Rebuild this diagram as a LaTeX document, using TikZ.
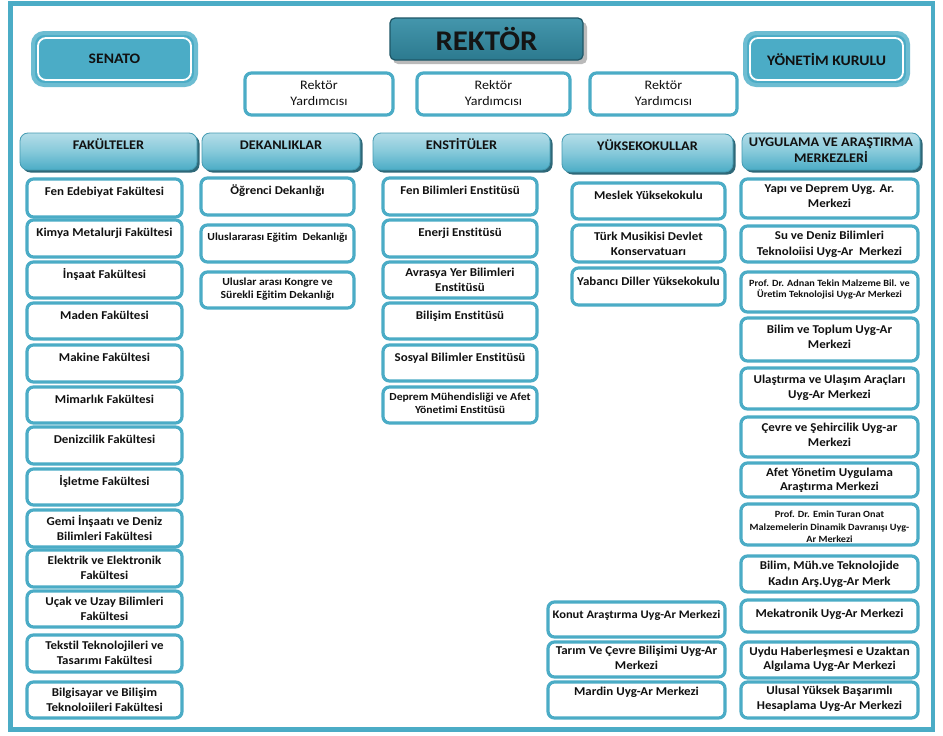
\documentclass[tikz,border=0pt]{standalone}
\usepackage{fontspec}
\setmainfont{Carlito}[FakeStretch=1.08,Ligatures=NoCommon]
\usetikzlibrary{calc,backgrounds}
\definecolor{teal1}{HTML}{4BACC6}
\definecolor{tealedge}{HTML}{6DBDD2}
\definecolor{hdrtop}{HTML}{B4DDE8}
\definecolor{hdrmid}{HTML}{86C9DA}
\definecolor{hdrbot}{HTML}{4BACC6}
\definecolor{hdrshadow}{HTML}{2E6878}
\definecolor{rktop}{HTML}{4496AC}
\definecolor{rkbot}{HTML}{2C7A8F}
\definecolor{rkedge}{HTML}{1E5767}
\definecolor{txtc}{HTML}{111111}
\tikzset{
 conn/.style={draw=teal1, line width=4pt},
 frame/.style={draw=teal1, line width=4.3pt},
 boxnode/.style={fill=white, rounded corners=6.5pt, inner sep=0pt, outer sep=0pt},
 boxline/.style={draw=teal1, line width=3.2pt, rounded corners=6.5pt},
 boxtxt/.style={align=center, inner sep=0pt, text=txtc, font=\fontsize{12}{15}\selectfont\bfseries, execute at begin node=\strut},
 smalltxt/.style={font=\fontsize{10.8}{13.5}\selectfont\bfseries},
 tinytxt/.style={font=\fontsize{9.5}{11.5}\selectfont\bfseries},
 rytxt/.style={font=\fontsize{13}{16}\selectfont, yshift=-1.5pt},
 hdrbox/.style={rounded corners=8pt, top color=hdrtop, bottom color=hdrbot, middle color=hdrmid, draw=teal1!90!black, line width=0.8pt, inner sep=0pt, outer sep=0pt},
 hdrshd/.style={fill=hdrshadow, rounded corners=8pt},
 hdrtxt/.style={align=center, inner sep=0pt, text=txtc, font=\fontsize{13.2}{16.5}\selectfont\bfseries, execute at begin node=\strut},
 sidebox/.style={fill=teal1, draw=tealedge, line width=4pt, rounded corners=11pt, inner sep=0pt, outer sep=0pt, text=txtc, font=\fontsize{14.5}{17}\selectfont\bfseries},
 sideinner/.style={draw=white, line width=1.8pt, rounded corners=8pt},
 rkbox/.style={top color=rktop, bottom color=rkbot, draw=rkedge, line width=1.2pt, rounded corners=5pt, inner sep=0pt, outer sep=0pt, text=black!92, font=\fontsize{28.5}{30}\selectfont\bfseries},
 rkshd/.style={fill=black!60, opacity=0.45, rounded corners=5pt},
}
% box: [text options] name x1 y1 x2 y2 text
\newcommand{\bx}[7][]{%
 \node[boxnode, anchor=north west, minimum width={(#5-#3)*1pt}, minimum height={(#6-#4)*1pt}] (#2) at (#3,#4) {};
 \begin{scope}
  \clip[rounded corners=6.5pt] (#2.north west) rectangle (#2.south east);
  \node[boxtxt, #1, anchor=north] at ([yshift=-5.5pt]#2.north) {#7};
 \end{scope}
 \draw[boxline] (#2.north west) rectangle (#2.south east);
}
% header: name x1 y1 x2 y2 text
\newcommand{\hdr}[6]{%
 \fill[hdrshd] (#2+2.5,#3+2.5) rectangle (#4+2.5,#5+2.5);
 \node[hdrbox, anchor=north west, minimum width={(#4-#2)*1pt}, minimum height={(#5-#3)*1pt}] (#1) at (#2,#3) {};
 \node[hdrtxt, anchor=north] at ([yshift=-4.3pt]#1.north) {#6};
}
\begin{document}
\begin{tikzpicture}[x=1pt,y=-1pt]
\useasboundingbox (0,0) rectangle (943,736);
\fill[white] (0,0) rectangle (943,736);
\draw[frame] (10.5,3.5) rectangle (933,729.5);

% top level
\fill[rkshd] (393,22) rectangle (587,64);
\node[rkbox, anchor=north west, minimum width=193pt, minimum height=42pt] (rektor) at (390,18) {REKT\"OR};
\node[sidebox, anchor=north west, minimum width=163pt, minimum height=52pt] (senato) at (33,33) {SENATO};
\draw[sideinner] ([shift={(5,5)}]senato.north west) rectangle ([shift={(-5,-5)}]senato.south east);
\node[sidebox, anchor=north west, minimum width=163pt, minimum height=52pt] (ykurulu) at (745,33) {YÖNETİM KURULU};
\draw[sideinner] ([shift={(5,5)}]ykurulu.north west) rectangle ([shift={(-5,-5)}]ykurulu.south east);

\bx[rytxt]{ry1}{245}{73}{393}{115}{Rektör\\Yardımcısı}
\bx[rytxt]{ry2}{417}{73}{570}{115}{Rektör\\Yardımcısı}
\bx[rytxt]{ry3}{590}{73}{737}{115}{Rektör\\Yardımcısı}

% headers
\hdr{fak}{20}{133}{197}{170}{FAKÜLTELER}
\hdr{dek}{202}{133}{360}{170}{DEKANLIKLAR}
\hdr{ens}{373}{133}{550}{170}{ENSTİTÜLER}
\hdr{yuk}{562}{134}{733}{172}{YÜKSEKOKULLAR}
\hdr{uyg}{742}{133}{920}{170}{UYGULAMA VE ARAŞTIRMA\\MERKEZLERİ}

% Fakulteler
\bx{f1}{27}{179}{182}{217}{Fen Edebiyat Fakültesi}
\bx{f2}{27}{220}{182}{257}{Kimya Metalurji Fakültesi}
\bx{f3}{27}{262}{182}{298}{İnşaat Fakültesi}
\bx{f4}{27}{303}{182}{339}{Maden Fakültesi}
\bx{f5}{27}{345}{182}{382}{Makine Fakültesi}
\bx{f6}{27}{387}{182}{423}{Mimarlık Fakültesi}
\bx{f7}{27}{427}{182}{464}{Denizcilik Fakültesi}
\bx{f8}{27}{469}{182}{505}{İşletme Fakültesi}
\bx{f9}{27}{510}{182}{547}{Gemi İnşaatı ve Deniz\\Bilimleri Fakültesi}
\bx{f10}{27}{550}{182}{587}{Elektrik ve Elektronik\\Fakültesi}
\bx{f11}{27}{591}{182}{627}{Uçak ve Uzay Bilimleri\\Fakültesi}
\bx{f12}{27}{635}{182}{672}{Tekstil Teknolojileri ve\\Tasarımı Fakültesi}
\bx{f13}{27}{682}{182}{718}{Bilgisayar ve Bilişim\\Teknoloiileri Fakültesi}

% Dekanliklar
\bx{d1}{201}{178}{354}{215}{Öğrenci Dekanlığı}
\bx[smalltxt]{d2}{201}{225}{354}{262}{Uluslararası Eğitim\ \ Dekanlığı}
\bx[smalltxt]{d3}{201}{272}{354}{308}{Uluslar arası Kongre ve\\Sürekli Eğitim Dekanlığı}

% Enstituler
\bx{e1}{383}{178}{537}{215}{Fen Bilimleri Enstitüsü}
\bx{e2}{383}{220}{537}{257}{Enerji Enstitüsü}
\bx{e3}{383}{262}{537}{298}{Avrasya Yer Bilimleri\\Enstitüsü}
\bx{e4}{383}{303}{537}{339}{Bilişim Enstitüsü}
\bx{e5}{383}{345}{537}{381}{Sosyal Bilimler Enstitüsü}
\bx[smalltxt]{e6}{383}{387}{537}{423}{Deprem Mühendisliği ve Afet\\Yönetimi Enstitüsü}

% Yuksekokullar
\bx{y1}{572}{183}{725}{219}{Meslek Yüksekokulu}
\bx[yshift=-1.3pt]{y2}{572}{225}{725}{262}{Türk Musikisi Devlet\\Konservatuarı}
\bx[yshift=-1.7pt]{y3}{572}{268}{725}{305}{Yabancı Diller Yüksekokulu}

% middle bottom
\bx[font=\fontsize{11.6}{15}\selectfont\bfseries]{m1}{548}{602}{725}{637}{Konut Araştırma Uyg-Ar Merkezi}
\bx[yshift=1.3pt]{m2}{548}{642}{725}{677}{Tarım Ve Çevre Bilişimi Uyg-Ar\\Merkezi}
\bx[yshift=2.3pt]{m3}{548}{682}{725}{718}{Mardin Uyg-Ar Merkezi}

% Uygulama ve arastirma merkezleri
\bx{u1}{741}{179}{918}{218}{Yapı ve Deprem Uyg. Ar.\\Merkezi}
\bx[font=\fontsize{12}{16.7}\selectfont\bfseries, yshift=1pt]{u2}{741}{226}{918}{262}{Su ve Deniz Bilimleri\\Teknoloiisi Uyg-Ar\ \ Merkezi}
\bx[font=\fontsize{9.5}{11}\selectfont\bfseries, yshift=-1.8pt]{u3}{741}{272}{918}{312}{Prof. Dr. Adnan Tekin Malzeme Bil. ve\\Üretim Teknolojisi Uyg-Ar Merkezi}
\bx[yshift=-1.7pt]{u4}{741}{318}{918}{361}{Bilim ve Toplum Uyg-Ar\\Merkezi}
\bx[yshift=-1.7pt]{u5}{741}{368}{918}{409}{Ulaştırma ve Ulaşım Araçları\\Uyg-Ar Merkezi}
\bx[yshift=-0.3pt]{u6}{741}{417}{918}{457}{Çevre ve Şehircilik Uyg-ar\\Merkezi}
\bx[font=\fontsize{12}{14.3}\selectfont\bfseries, yshift=0.7pt]{u7}{741}{463}{918}{497}{Afet Yönetim Uygulama\\Araştırma Merkezi}
\bx[font=\fontsize{9.5}{12.2}\selectfont\bfseries, yshift=-1.5pt]{u8}{741}{504}{918}{545}{Prof. Dr. Emin Turan Onat\\Malzemelerin Dinamik Davranışı Uyg-\\Ar Merkezi}
\bx[font=\fontsize{12}{15.7}\selectfont\bfseries, yshift=0.3pt]{u9}{741}{556}{918}{592}{Bilim, Müh.ve Teknolojide\\Kadın Arş.Uyg-Ar Merk}
\bx[yshift=-1pt]{u10}{741}{600}{918}{632}{Mekatronik Uyg-Ar Merkezi}
\bx[font=\fontsize{12}{14}\selectfont\bfseries, yshift=0.8pt]{u11}{741}{642}{918}{678}{Uydu Haberleşmesi e Uzaktan\\Algılama Uyg-Ar Merkezi}
\bx[yshift=1.3pt]{u12}{741}{682}{918}{718}{Ulusal Yüksek Başarımlı\\Hesaplama Uyg-Ar Merkezi}

% connectors
\begin{pgfonlayer}{background}
\coordinate (sj) at (290,0);
\coordinate (yj) at (671,52);
\draw[conn] (senato.east) -| (sj |- rektor.west) -- (rektor.west);
\draw[conn] (rektor.east) -| (yj) -- (yj -| ykurulu.west);
\draw[conn] (rektor.south) -- (rektor.south |- ry2.north);
\draw[conn] (ry1.east) -- (ry2.west);
\draw[conn] (ry2.east) -- (ry3.west);
\draw[conn] (ry1.west) -| ([xshift=5.5pt]fak.north);
\draw[conn] (ry3.east) -| (uyg.north);
\end{pgfonlayer}
\end{tikzpicture}
\end{document}
